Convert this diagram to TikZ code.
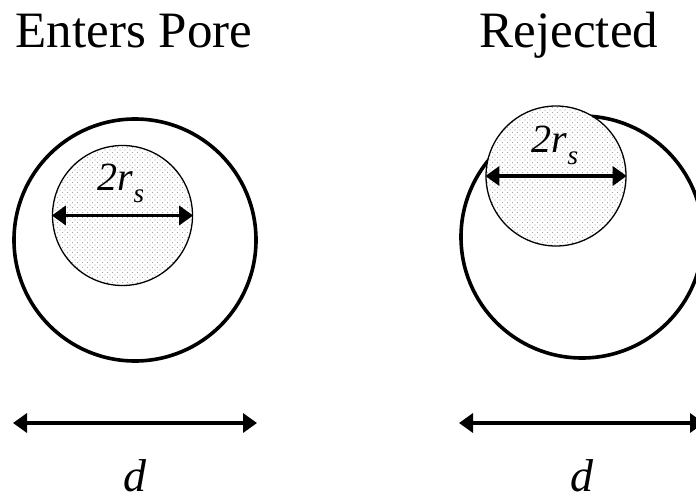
\documentclass[tikz,border=0pt]{standalone}
\usepackage{fontspec}
\setmainfont{Liberation Serif}
\usetikzlibrary{arrows.meta,patterns}
\pgfdeclarepatternformonly{stipple}{\pgfqpoint{-1pt}{-1pt}}{\pgfqpoint{4pt}{4pt}}{\pgfqpoint{5pt}{5pt}}{%
  \pgfpathcircle{\pgfqpoint{0pt}{0pt}}{0.7pt}%
  \pgfpathcircle{\pgfqpoint{2.5pt}{2.5pt}}{0.7pt}%
  \pgfusepath{fill}}
\begin{document}
\begin{tikzpicture}[x=1pt,y=-1pt,
  pore/.style={circle,draw,line width=3.6pt,minimum size=242pt,inner sep=0pt},
  solute/.style={circle,draw,line width=1.3pt,minimum size=140pt,inner sep=0pt,
    preaction={fill=white},pattern=stipple,pattern color=gray!70},
  dimarrow/.style={line width=3.4pt,{Triangle[length=14pt,width=19pt]}-{Triangle[length=14pt,width=19pt]}},
  titletext/.style={font=\fontsize{51}{60}\selectfont,anchor=base},
  dtext/.style={font=\fontsize{46}{55}\selectfont\itshape,anchor=base},
  rtext/.style={font=\fontsize{40}{48}\selectfont\itshape,anchor=base}
]
\useasboundingbox (0,0) rectangle (696,500);
\clip (0,0) rectangle (696,500);

% titles
\node[titletext] (t1) at (134,48) {Enters Pore};
\node[titletext] (t2) at (569,48) {Rejected};

% left: enters pore
\node[pore] (bigL) at (135,240) {};
\node[solute] (smL) at (122.5,215.5) {};
\draw[dimarrow] (smL.west) -- (smL.east);
\node[rtext] (rL) at (121,190) {2r\raisebox{-12pt}{\fontsize{27}{27}\selectfont s}};

% right: rejected
\node[pore] (bigR) at (582,237) {};
\node[solute] (smR) at (556,176) {};
\draw[dimarrow] (smR.west) -- (smR.east);
\node[rtext] (rR) at (555,153) {2r\raisebox{-12pt}{\fontsize{27}{27}\selectfont s}};

% dimension d
\coordinate (dL1) at (13,423);
\coordinate (dL2) at (257,423);
\draw[dimarrow] (dL1) -- (dL2);
\node[dtext] (dLt) at (135,491) {d};

\coordinate (dR1) at (459,423);
\coordinate (dR2) at (704,423);
\draw[dimarrow] (dR1) -- (dR2);
\node[dtext] (dRt) at (582,491) {d};
\end{tikzpicture}
\end{document}
